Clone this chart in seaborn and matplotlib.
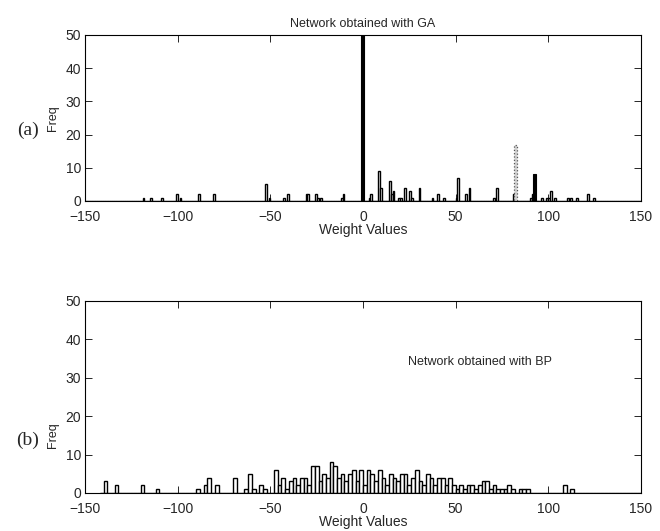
import numpy as np
import matplotlib
matplotlib.use("Agg")
import matplotlib.pyplot as plt
import seaborn as sns

# (a) network obtained with GA: bin centres and counts (bins 1 unit wide)
ga_x = [-118.5, -114.5, -108.5, -100.5, -98.5, -88.5, -80.5, -52.5, -50.5,
        -42.5, -40.5, -30.5, -29.5, -25.5, -24.5, -22.5, -11.5, -10.5,
        3.5, 4.5, 8.5, 9.5, 14.5, 15.5, 16.5, 19.5, 20.5, 22.5, 25.5, 26.5,
        30.5, 37.5, 40.5, 43.5, 50.5, 51.5, 55.5, 57.5, 70.5, 72.5, 81.5,
        90.5, 91.5, 96.5, 99.5, 100.5, 101.5, 103.5, 110.5, 112.5, 115.5,
        121.5, 124.5]
ga_n = [1, 1, 1, 2, 1, 2, 2, 5, 1,
        1, 2, 2, 2, 2, 1, 1, 1, 2,
        1, 2, 9, 4, 6, 2, 3, 1, 1, 4, 3, 1,
        4, 1, 2, 1, 1, 7, 2, 4, 1, 4, 2,
        1, 2, 1, 1, 1, 3, 1, 1, 1, 1,
        2, 1]
# dark bars (the one at zero runs off the top of the axes)
ga_dark_x = [-0.5, 92.5]
ga_dark_n = [60, 8]
# dotted grey bar
ga_grey_x = [82.5]
ga_grey_n = [17]

# (b) network obtained with BP: bin centres and counts (bins 2 units wide)
bp_x = [-140, -133, -120, -112, -89, -86, -84, -79, -69, -64, -61, -59, -56,
        -54, -48, -46, -44, -41, -39, -37, -35, -33, -31, -29, -27, -25, -23,
        -21, -19, -17, -15, -13, -11, -9, -7, -5, -3, -1, 1, 3, 5, 7, 9, 11,
        13, 15, 17, 19, 21, 23, 25, 27, 29, 31, 33, 35, 37, 39, 41, 43, 45,
        47, 49, 51, 53, 55, 57, 59, 61, 63, 65, 67, 69, 71, 73, 75, 77, 79,
        81, 85, 87, 89, 108, 113]
bp_n = [3, 2, 2, 1, 1, 2, 4, 2, 4, 1, 5, 1, 2,
        1, 6, 2, 4, 1, 3, 4, 2, 4, 4, 2, 7, 7, 3,
        5, 4, 8, 7, 4, 5, 3, 5, 6, 3, 6, 2, 6, 5, 3, 6, 4,
        2, 5, 4, 3, 5, 5, 2, 4, 6, 3, 2, 5, 4, 2, 4, 4, 2,
        4, 2, 1, 2, 1, 2, 2, 1, 2, 3, 3, 1, 2, 1, 1, 1,
        2, 1, 1, 1, 1, 2, 1]

sns.set_style("ticks")
plt.rcParams["font.family"] = ["Liberation Sans", "DejaVu Sans"]
plt.rcParams["axes.linewidth"] = 0.8

fig = plt.figure(figsize=(6.6, 5.31), dpi=100)
ax1 = fig.add_axes([0.129, 0.6215, 0.842, 0.3126])
ax2 = fig.add_axes([0.129, 0.0716, 0.842, 0.3616])

# top panel
sns.histplot(x=ga_x, weights=ga_n, binwidth=1, binrange=(-150, 150), ax=ax1,
             color="white", edgecolor="black", linewidth=1.0, alpha=1)
sns.histplot(x=ga_dark_x, weights=ga_dark_n, binwidth=1.5, binrange=(-1, 95),
             ax=ax1, color="black", edgecolor="black", linewidth=0.8, alpha=1)
sns.histplot(x=ga_grey_x, weights=ga_grey_n, binwidth=1.5, binrange=(81.5, 83),
             ax=ax1, color="#d0d0d0", edgecolor="#555555", linewidth=0.9,
             linestyle=":", alpha=1)
ax1.set_title("Network obtained with GA", fontsize=9, pad=6)

# bottom panel
sns.histplot(x=bp_x, weights=bp_n, binwidth=2, binrange=(-142, 150), ax=ax2,
             color="white", edgecolor="black", linewidth=1.0, alpha=1)
ax2.text(63, 34, "Network obtained with BP", fontsize=9, ha="center", va="center")

for ax in (ax1, ax2):
    ax.set_xlim(-150, 150)
    ax.set_ylim(0, 50)
    ax.set_xticks(range(-150, 151, 50))
    ax.set_yticks(range(0, 51, 10))
    ax.tick_params(direction="in", top=True, right=True, length=5, width=0.7,
                   labelsize=10)
    ax.tick_params(axis="x", pad=6.5)
    ax.tick_params(axis="y", pad=3)
    ax.set_xlabel("Weight Values", fontsize=10, labelpad=-1)
    ax.set_ylabel("Freq", fontsize=9)
    for s in ax.spines.values():
        s.set_visible(True)
        s.set_color("black")

ax1.yaxis.set_label_coords(-0.047, 0.5)
ax2.yaxis.set_label_coords(-0.047, 0.3)

fig.text(0.042, 0.755, "(a)", fontsize=14, family=["Liberation Serif", "DejaVu Serif"],
         ha="center", va="center")
fig.text(0.042, 0.171, "(b)", fontsize=14, family=["Liberation Serif", "DejaVu Serif"],
         ha="center", va="center")

fig.savefig("out.png", dpi=100)
